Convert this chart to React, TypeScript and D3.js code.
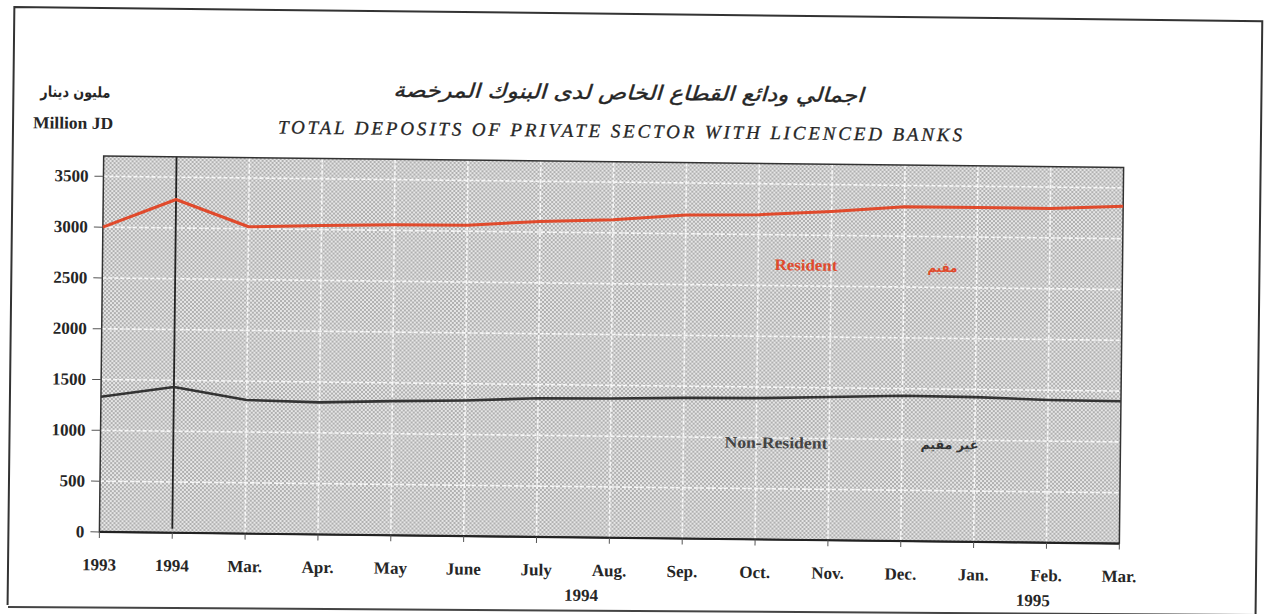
import React from 'react';
import * as d3 from 'd3';

// ---- data ----
const categories = ['1993', '1994', 'Mar.', 'Apr.', 'May', 'June', 'July', 'Aug.', 'Sep.', 'Oct.', 'Nov.', 'Dec.', 'Jan.', 'Feb.', 'Mar.'];
const resident = [3000, 3280, 3020, 3040, 3055, 3060, 3105, 3130, 3185, 3195, 3235, 3290, 3290, 3290, 3320];
const nonResident = [1330, 1435, 1315, 1300, 1320, 1335, 1365, 1370, 1385, 1390, 1410, 1430, 1425, 1405, 1400];
const yTicks = [0, 500, 1000, 1500, 2000, 2500, 3000, 3500];
const yearLabels = ['1994', '1995'];
const yearLabelPos = [6.62, 12.82];

const titleAr = 'اجمالي ودائع القطاع الخاص لدى البنوك المرخصة';
const titleEn = 'TOTAL DEPOSITS OF PRIVATE SECTOR WITH LICENCED BANKS';
const unitAr = 'مليون دينار';
const unitEn = 'Million JD';

const W = 1264;
const H = 614;
const plot = { left: 102, right: 1122, top: 162, bottom: 538 };
const SERIF = "'Liberation Serif', 'Times New Roman', serif";
const ARABIC = "'DejaVu Sans', sans-serif";
const RED = '#e04a2c';
const INK = '#262626';

export default function App() {
  const x = d3.scaleLinear().domain([0, categories.length - 1]).range([plot.left, plot.right]);
  const y = d3.scaleLinear().domain([0, 3700]).range([plot.bottom, plot.top]);
  const line = d3.line<number>().x((_, i) => x(i)).y((d) => y(d));

  return (
    <svg width={W} height={H} style={{ position: 'absolute', left: 0, top: 0, background: '#fff' }}>
      <defs>
        <pattern id="dots" width={4} height={4} patternUnits="userSpaceOnUse">
          <rect width={4} height={4} fill="#e6e6e6" />
          <circle cx={1} cy={1} r={0.95} fill="#999" />
          <circle cx={3} cy={3} r={0.95} fill="#999" />
        </pattern>
      </defs>
      {/* bottom edge of the outer frame */}
      <line x1={8} x2={1258} y1={607} y2={615} stroke="#444" strokeWidth={2} />
      <g transform="rotate(0.65 632 307)">
        {/* outer frame (top, left, right) */}
        <path d="M11,612 L11,14 L1259,14 L1259,620" fill="none" stroke="#333" strokeWidth={2} />

        {/* unit labels */}
        <text x={73} y={98.5} textAnchor="middle" dominantBaseline="central" fontFamily={ARABIC} fontWeight="bold" fontSize={15} fill={INK} textLength={70} lengthAdjust="spacingAndGlyphs" direction="rtl">{unitAr}</text>
        <text x={31} y={129.5} dominantBaseline="central" fontFamily={SERIF} fontWeight="bold" fontSize={17} fill={INK} textLength={80} lengthAdjust="spacingAndGlyphs">{unitEn}</text>

        {/* titles */}
        <text x={626} y={92.5} textAnchor="middle" dominantBaseline="central" fontFamily={ARABIC} fontStyle="italic" fontSize={20} fill={INK} stroke={INK} strokeWidth={0.4} textLength={470} lengthAdjust="spacingAndGlyphs" direction="rtl">{titleAr}</text>
        <text x={276} y={131} dominantBaseline="central" fontFamily={SERIF} fontStyle="italic" fontSize={19} fill={INK} stroke={INK} strokeWidth={0.3} textLength={684} lengthAdjust="spacing">{titleEn}</text>

        {/* plot background */}
        <rect x={plot.left} y={plot.top} width={plot.right - plot.left} height={plot.bottom - plot.top} fill="url(#dots)" />

        {/* grid lines */}
        {yTicks.filter((t) => t > 0).map((t) => (
          <line key={'gy' + t} x1={plot.left} x2={plot.right} y1={y(t)} y2={y(t)} stroke="#f6f6f6" strokeWidth={1.6} strokeDasharray="4 2" />
        ))}
        {categories.map((c, i) => (i > 1 && i < categories.length - 1 ? (
          <line key={'gx' + i} x1={x(i)} x2={x(i)} y1={plot.top} y2={plot.bottom} stroke="#f6f6f6" strokeWidth={1.6} strokeDasharray="4 2" />
        ) : null))}

        {/* 1994 divider */}
        <line x1={x(1)} x2={x(1)} y1={plot.top} y2={plot.bottom - 4} stroke="#222" strokeWidth={1.8} />

        {/* plot frame */}
        <rect x={plot.left} y={plot.top} width={plot.right - plot.left} height={plot.bottom - plot.top} fill="none" stroke="#333" strokeWidth={1.5} />
        <line x1={plot.left} x2={plot.right} y1={plot.bottom} y2={plot.bottom} stroke="#222" strokeWidth={2.2} />

        {/* y axis ticks + labels */}
        {yTicks.map((t) => (
          <g key={'yt' + t}>
            <line x1={plot.left - 9} x2={plot.left} y1={y(t)} y2={y(t)} stroke="#555" strokeWidth={1} />
            <text x={87} y={y(t)} textAnchor="end" dominantBaseline="central" fontFamily={SERIF} fontWeight="bold" fontSize={17} fill={INK}>{t}</text>
          </g>
        ))}

        {/* x axis ticks + labels */}
        {categories.map((c, i) => (
          <g key={'xt' + i}>
            <line x1={x(i)} x2={x(i)} y1={plot.bottom} y2={plot.bottom + 6} stroke="#555" strokeWidth={1} />
            <text x={x(i)} y={571} textAnchor="middle" dominantBaseline="central" fontFamily={SERIF} fontWeight="bold" fontSize={17} fill={INK}>{c}</text>
          </g>
        ))}
        {yearLabels.map((l, i) => (
          <text key={'yr' + l} x={x(yearLabelPos[i])} y={596} textAnchor="middle" dominantBaseline="central" fontFamily={SERIF} fontWeight="bold" fontSize={17} fill={INK}>{l}</text>
        ))}

        {/* series */}
        <path d={line(nonResident) || ''} fill="none" stroke="#333" strokeWidth={2.6} strokeLinejoin="round" />
        <path d={line(resident) || ''} fill="none" stroke={RED} strokeWidth={3} strokeLinejoin="round" />

        {/* series labels */}
        <text x={774} y={263} dominantBaseline="central" fontFamily={SERIF} fontWeight="bold" fontSize={16} fill={RED} textLength={63} lengthAdjust="spacingAndGlyphs">Resident</text>
        <text x={942} y={264} textAnchor="middle" dominantBaseline="central" fontFamily={ARABIC} fontWeight="bold" fontSize={13} fill={RED} textLength={30} lengthAdjust="spacingAndGlyphs" direction="rtl">مقيم</text>
        <text x={726} y={441} dominantBaseline="central" fontFamily={SERIF} fontWeight="bold" fontSize={16} fill="#444" textLength={103} lengthAdjust="spacingAndGlyphs">Non-Resident</text>
        <text x={951} y={441} textAnchor="middle" dominantBaseline="central" fontFamily={ARABIC} fontWeight="bold" fontSize={13} fill="#333" textLength={58} lengthAdjust="spacingAndGlyphs" direction="rtl">غير مقيم</text>
      </g>
    </svg>
  );
}
